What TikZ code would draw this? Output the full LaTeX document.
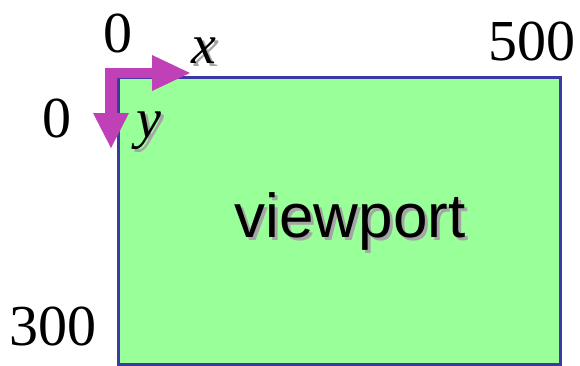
\documentclass[tikz,border=0pt]{standalone}
\usepackage{fontspec}
\setmainfont{Liberation Serif}
\newfontfamily\arialf{Liberation Sans}
\definecolor{vpgreen}{RGB}{153,255,153}
\definecolor{vpblue}{RGB}{58,58,160}
\definecolor{axmag}{RGB}{192,64,184}
\definecolor{shadowgray}{RGB}{165,165,165}
\newcommand{\shtext}[1]{\makebox[0pt][l]{\hspace*{3pt}\raisebox{-3pt}{\textcolor{shadowgray}{#1}}}#1}
\begin{document}
\begin{tikzpicture}[x=1pt,y=-1pt,
  num/.style={anchor=base, inner sep=0pt, font=\fontsize{58}{58}\selectfont},
  axlabel/.style={anchor=base, inner sep=0pt, font=\fontsize{56}{56}\selectfont\itshape},
  vpbox/.style={draw=vpblue, fill=vpgreen, line width=3pt, inner sep=0pt,
    minimum width=442pt, minimum height=287pt, anchor=north west},
  vplabel/.style={anchor=base, inner sep=0pt, font=\arialf\fontsize{62}{62}\selectfont},
  axis/.style={fill=axmag, draw=none}]
\useasboundingbox (0,0) rectangle (580,365);
\node[vpbox] (vp) at (117,76) {};
% axes
\coordinate (corner) at (105,68);
\coordinate (xtip) at (190,73);
\coordinate (ytip) at (111,148);
\fill[axis] (corner) -- (152,68) -- (152,55) -- (xtip) -- (152,91) -- (152,78)
  -- (117,78) -- (117,113) -- (129,113) -- (ytip) -- (93,113) -- (105,113) -- cycle;
% numbers
\node[num] (zx) at (118,52) {0};
\node[num] (fh) at (532,60) {500};
\node[num] (zy) at (57,137) {0};
\node[num] (th) at (53,345) {300};
% axis labels
\node[axlabel] (xl) at (204,63) {\shtext{x}};
\node[axlabel] (yl) at (149,137) {\shtext{y}};
% viewport label
\node[vplabel] (vpl) at (350,237) {\shtext{viewport}};
\end{tikzpicture}
\end{document}
